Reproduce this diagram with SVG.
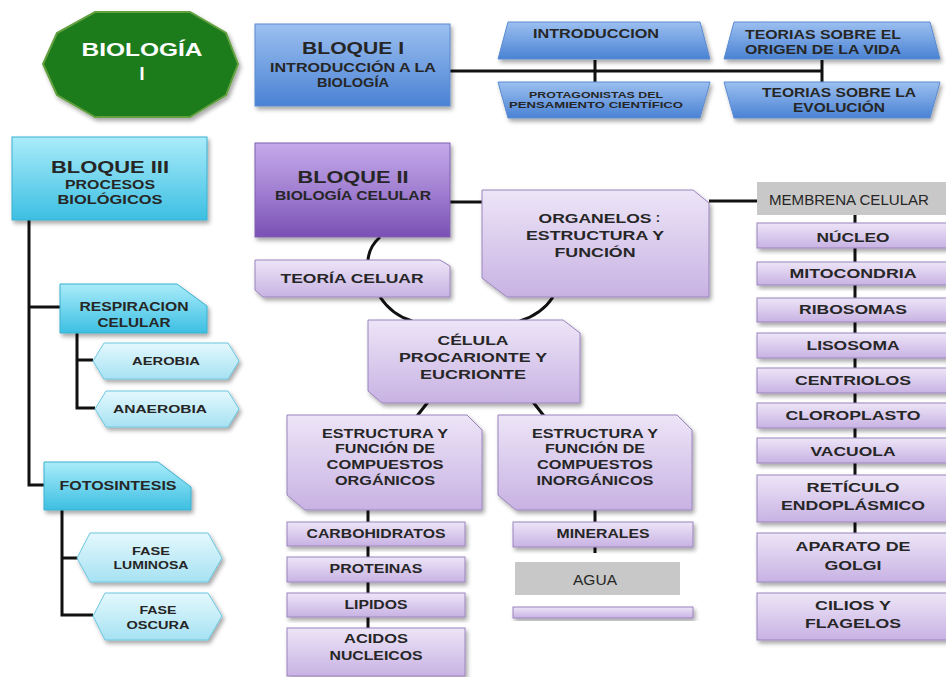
<svg xmlns="http://www.w3.org/2000/svg" width="946" height="677" viewBox="0 0 946 677">
<defs>
<linearGradient id="gPur" x1="0" y1="0" x2="0" y2="1"><stop offset="0" stop-color="#ede5f7"/><stop offset="1" stop-color="#c8b2e3"/></linearGradient>
<linearGradient id="gPurD" x1="0" y1="0" x2="0" y2="1"><stop offset="0" stop-color="#c4a9ea"/><stop offset="0.5" stop-color="#a280d2"/><stop offset="1" stop-color="#7a50b4"/></linearGradient>
<linearGradient id="gBlue" x1="0" y1="0" x2="0" y2="1"><stop offset="0" stop-color="#9cc0f0"/><stop offset="1" stop-color="#4a82d4"/></linearGradient>
<linearGradient id="gCyan" x1="0" y1="0" x2="0" y2="1"><stop offset="0" stop-color="#aaecfa"/><stop offset="1" stop-color="#3cbfe2"/></linearGradient>
<linearGradient id="gHex" x1="0" y1="0" x2="0" y2="1"><stop offset="0" stop-color="#e4f8fd"/><stop offset="1" stop-color="#a6e2f3"/></linearGradient>
<filter id="sh" x="-10%" y="-15%" width="125%" height="140%"><feDropShadow dx="2" dy="3" stdDeviation="2" flood-color="#000" flood-opacity="0.35"/></filter>
</defs>
<style>
.t{font-family:"Liberation Sans",Arial,sans-serif;font-weight:bold;fill:#262626;text-anchor:middle}
.w{fill:#ffffff}
.r{font-family:"Liberation Sans",Arial,sans-serif;font-weight:normal;fill:#262626;text-anchor:middle}
.pur{fill:url(#gPur);stroke:#9a84bd;stroke-width:1;filter:url(#sh)}
.purd{fill:url(#gPurD);stroke:#8060b0;stroke-width:1;filter:url(#sh)}
.blue{fill:url(#gBlue);stroke:#5a8ad0;stroke-width:1;filter:url(#sh)}
.cyan{fill:url(#gCyan);stroke:#3bb0d0;stroke-width:1;filter:url(#sh)}
.hex{fill:url(#gHex);stroke:#6cc6e0;stroke-width:1;filter:url(#sh)}
.gray{fill:#c8c8c8}
.c{stroke:#111;stroke-width:3;fill:none}
</style>
<rect width="946" height="677" fill="#ffffff"/>

<g id="connectors">
<path class="c" d="M450,71 H822 M595,60 V82 M822,60 V82"/>
<path class="c" d="M29,220 V485 H44 M29,307 H60"/>
<path class="c" d="M77,333 V408 H95 M77,360 H93"/>
<path class="c" d="M62,510 V615 H93 M62,558 H78"/>
<path class="c" d="M450,202 H482"/>
<path class="c" d="M380,237 Q368,248 368,262"/>
<path class="c" d="M380,297 Q392,315 412,321"/>
<path class="c" d="M520,321 Q542,314 553,297"/>
<path class="c" d="M709,201 H757"/>
<path class="c" d="M428,402 L417,416 M533,402 L544,416"/>
<path class="c" d="M368,510 V628"/>
<path class="c" d="M595,510 V553"/>
<path class="c" d="M855,215 V533"/>
</g>

<g id="biologia">
<polygon points="43,64 57,33 95,12 190,12 226,33 238,64 226,95 190,117 95,117 57,95" fill="#1f7b1f" stroke="#62a040" stroke-width="2" filter="url(#sh)"/>
<text class="t w" x="142" y="56" font-size="18" textLength="121" lengthAdjust="spacingAndGlyphs">BIOLOGÍA</text>
<text class="t w" x="142" y="80" font-size="18">I</text>
</g>

<g id="bloque1">
<rect class="blue" x="255" y="24" width="195" height="82"/>
<text class="t" x="353" y="54" font-size="17" textLength="102" lengthAdjust="spacingAndGlyphs">BLOQUE I</text>
<text class="t" x="353" y="72" font-size="12" textLength="166" lengthAdjust="spacingAndGlyphs">INTRODUCCIÓN A LA</text>
<text class="t" x="353" y="87" font-size="12" textLength="72" lengthAdjust="spacingAndGlyphs">BIOLOGÍA</text>
</g>

<g id="introduccion">
<polygon class="blue" points="508,22 700,22 710,59 498,59"/>
<text class="t" x="596" y="38" font-size="12.5" textLength="126" lengthAdjust="spacingAndGlyphs">INTRODUCCION</text>
</g>
<g id="origen">
<polygon class="blue" points="734,22 930,22 940,59 724,59"/>
<text class="t" x="823" y="39" font-size="12.5" textLength="156" lengthAdjust="spacingAndGlyphs">TEORIAS SOBRE EL</text>
<text class="t" x="823" y="54" font-size="12.5" textLength="156" lengthAdjust="spacingAndGlyphs">ORIGEN DE LA VIDA</text>
</g>
<g id="protagonistas">
<polygon class="blue" points="498,82 710,82 700,118 508,118"/>
<text class="t" x="596" y="98" font-size="9.5" textLength="134" lengthAdjust="spacingAndGlyphs">PROTAGONISTAS DEL</text>
<text class="t" x="596" y="108" font-size="9.5" textLength="174" lengthAdjust="spacingAndGlyphs">PENSAMIENTO CIENTÍFICO</text>
</g>
<g id="evolucion">
<polygon class="blue" points="724,82 940,82 930,118 734,118"/>
<text class="t" x="839" y="97" font-size="12.5" textLength="154" lengthAdjust="spacingAndGlyphs">TEORIAS SOBRE LA</text>
<text class="t" x="839" y="112" font-size="12.5" textLength="92" lengthAdjust="spacingAndGlyphs">EVOLUCIÓN</text>
</g>

<g id="bloque3">
<rect class="cyan" x="12" y="137" width="195" height="83"/>
<text class="t" x="110" y="173" font-size="17" textLength="118" lengthAdjust="spacingAndGlyphs">BLOQUE III</text>
<text class="t" x="110" y="189" font-size="12" textLength="90" lengthAdjust="spacingAndGlyphs">PROCESOS</text>
<text class="t" x="110" y="204" font-size="12" textLength="105" lengthAdjust="spacingAndGlyphs">BIOLÓGICOS</text>
</g>
<g id="respiracion">
<polygon class="cyan" points="60,284 177,284 207,306 207,333 60,333"/>
<text class="t" x="134" y="311" font-size="12" textLength="109" lengthAdjust="spacingAndGlyphs">RESPIRACION</text>
<text class="t" x="134" y="327" font-size="12" textLength="73" lengthAdjust="spacingAndGlyphs">CELULAR</text>
</g>
<g id="aerobia">
<polygon class="hex" points="93,361 104,343 228,343 239,361 228,379 104,379"/>
<text class="t" x="166" y="365" font-size="11" textLength="68" lengthAdjust="spacingAndGlyphs">AEROBIA</text>
</g>
<g id="anaerobia">
<polygon class="hex" points="95,409 106,391 228,391 239,409 228,427 106,427"/>
<text class="t" x="160" y="413" font-size="11" textLength="94" lengthAdjust="spacingAndGlyphs">ANAEROBIA</text>
</g>
<g id="fotosintesis">
<polygon class="cyan" points="44,462 158,462 191,487 191,510 44,510"/>
<text class="t" x="118" y="490" font-size="12" textLength="117" lengthAdjust="spacingAndGlyphs">FOTOSINTESIS</text>
</g>
<g id="luminosa">
<polygon class="hex" points="77,558 90,533 208,533 222,558 208,582 90,582"/>
<text class="t" x="151" y="555" font-size="10.5" textLength="38" lengthAdjust="spacingAndGlyphs">FASE</text>
<text class="t" x="151" y="569" font-size="10.5" textLength="75" lengthAdjust="spacingAndGlyphs">LUMINOSA</text>
</g>
<g id="oscura">
<polygon class="hex" points="93,616 105,593 208,593 222,616 208,640 105,640"/>
<text class="t" x="158" y="614" font-size="10.5" textLength="37" lengthAdjust="spacingAndGlyphs">FASE</text>
<text class="t" x="158" y="629" font-size="10.5" textLength="63" lengthAdjust="spacingAndGlyphs">OSCURA</text>
</g>

<g id="bloque2">
<rect class="purd" x="255" y="143" width="195" height="94"/>
<text class="t" x="353" y="183" font-size="17" textLength="111" lengthAdjust="spacingAndGlyphs">BLOQUE II</text>
<text class="t" x="353" y="200" font-size="12" textLength="156" lengthAdjust="spacingAndGlyphs">BIOLOGÍA CELULAR</text>
</g>
<g id="teoria">
<polygon class="pur" points="255,260 440,260 450,266 450,297 263,297 255,290"/>
<text class="t" x="352" y="283" font-size="13" textLength="143" lengthAdjust="spacingAndGlyphs">TEORÍA CELUAR</text>
</g>
<g id="organelos">
<polygon class="pur" points="482,190 693,190 709,203 709,297 507,297 482,278"/>
<text class="t" x="595" y="223" font-size="13" textLength="113" lengthAdjust="spacingAndGlyphs">ORGANELOS</text>
<text class="t" x="658" y="222" font-size="13">:</text>
<text class="t" x="595" y="240" font-size="13" textLength="138" lengthAdjust="spacingAndGlyphs">ESTRUCTURA Y</text>
<text class="t" x="595" y="257" font-size="13" textLength="81" lengthAdjust="spacingAndGlyphs">FUNCIÓN</text>
</g>
<g id="celula">
<polygon class="pur" points="368,320 563,320 580,333 580,403 382,403 368,391"/>
<text class="t" x="473" y="345" font-size="13" textLength="71" lengthAdjust="spacingAndGlyphs">CÉLULA</text>
<text class="t" x="473" y="362" font-size="13" textLength="148" lengthAdjust="spacingAndGlyphs">PROCARIONTE Y</text>
<text class="t" x="473" y="379" font-size="13" textLength="106" lengthAdjust="spacingAndGlyphs">EUCRIONTE</text>
</g>
<g id="organicos">
<polygon class="pur" points="287,415 467,415 482,430 482,510 305,510 287,495"/>
<text class="t" x="385" y="438" font-size="12" textLength="126" lengthAdjust="spacingAndGlyphs">ESTRUCTURA Y</text>
<text class="t" x="385" y="453" font-size="12" textLength="100" lengthAdjust="spacingAndGlyphs">FUNCIÓN DE</text>
<text class="t" x="385" y="469" font-size="12" textLength="117" lengthAdjust="spacingAndGlyphs">COMPUESTOS</text>
<text class="t" x="385" y="485" font-size="12" textLength="100" lengthAdjust="spacingAndGlyphs">ORGÁNICOS</text>
</g>
<g id="inorganicos">
<polygon class="pur" points="498,415 677,415 692,430 692,510 516,510 498,495"/>
<text class="t" x="595" y="438" font-size="12" textLength="126" lengthAdjust="spacingAndGlyphs">ESTRUCTURA Y</text>
<text class="t" x="595" y="453" font-size="12" textLength="100" lengthAdjust="spacingAndGlyphs">FUNCIÓN DE</text>
<text class="t" x="595" y="469" font-size="12" textLength="116" lengthAdjust="spacingAndGlyphs">COMPUESTOS</text>
<text class="t" x="595" y="485" font-size="12" textLength="117" lengthAdjust="spacingAndGlyphs">INORGÁNICOS</text>
</g>
<g id="carbohidratos">
<rect class="pur" x="287" y="522" width="178" height="24"/>
<text class="t" x="376" y="538" font-size="12" textLength="139" lengthAdjust="spacingAndGlyphs">CARBOHIDRATOS</text>
</g>
<g id="proteinas">
<rect class="pur" x="287" y="557" width="178" height="25"/>
<text class="t" x="376" y="573" font-size="12" textLength="93" lengthAdjust="spacingAndGlyphs">PROTEINAS</text>
</g>
<g id="lipidos">
<rect class="pur" x="287" y="593" width="178" height="24"/>
<text class="t" x="376" y="609" font-size="12" textLength="63" lengthAdjust="spacingAndGlyphs">LIPIDOS</text>
</g>
<g id="acidos">
<rect class="pur" x="287" y="628" width="178" height="48"/>
<text class="t" x="376" y="643" font-size="12" textLength="64" lengthAdjust="spacingAndGlyphs">ACIDOS</text>
<text class="t" x="376" y="660" font-size="12" textLength="93" lengthAdjust="spacingAndGlyphs">NUCLEICOS</text>
</g>
<g id="minerales">
<rect class="pur" x="513" y="522" width="180" height="25"/>
<text class="t" x="603" y="538" font-size="12" textLength="93" lengthAdjust="spacingAndGlyphs">MINERALES</text>
</g>
<g id="agua">
<rect class="pur" x="513" y="607" width="180" height="11"/>
<rect class="gray" x="515" y="562" width="165" height="33"/>
<text class="r" x="595" y="585" font-size="15" textLength="44" lengthAdjust="spacingAndGlyphs">AGUA</text>
</g>

<g id="membrana">
<rect class="gray" x="757" y="182" width="189" height="33"/>
<text class="r" x="849" y="205" font-size="14.5" textLength="160" lengthAdjust="spacingAndGlyphs">MEMBRENA CELULAR</text>
</g>
<g id="nucleo"><rect class="pur" x="757" y="223" width="195" height="25"/><text class="t" x="853" y="242" font-size="12.5" textLength="73" lengthAdjust="spacingAndGlyphs">NÚCLEO</text></g>
<g id="mitocondria"><rect class="pur" x="757" y="262" width="195" height="23"/><text class="t" x="853" y="278" font-size="12.5" textLength="127" lengthAdjust="spacingAndGlyphs">MITOCONDRIA</text></g>
<g id="ribosomas"><rect class="pur" x="757" y="298" width="195" height="24"/><text class="t" x="853" y="314" font-size="12.5" textLength="108" lengthAdjust="spacingAndGlyphs">RIBOSOMAS</text></g>
<g id="lisosoma"><rect class="pur" x="757" y="333" width="195" height="25"/><text class="t" x="853" y="350" font-size="12.5" textLength="93" lengthAdjust="spacingAndGlyphs">LISOSOMA</text></g>
<g id="centriolos"><rect class="pur" x="757" y="368" width="195" height="25"/><text class="t" x="853" y="385" font-size="12.5" textLength="116" lengthAdjust="spacingAndGlyphs">CENTRIOLOS</text></g>
<g id="cloroplasto"><rect class="pur" x="757" y="403" width="195" height="25"/><text class="t" x="853" y="420" font-size="12.5" textLength="135" lengthAdjust="spacingAndGlyphs">CLOROPLASTO</text></g>
<g id="vacuola"><rect class="pur" x="757" y="438" width="195" height="25"/><text class="t" x="853" y="456" font-size="12.5" textLength="85" lengthAdjust="spacingAndGlyphs">VACUOLA</text></g>
<g id="reticulo"><rect class="pur" x="757" y="475" width="195" height="47"/>
<text class="t" x="853" y="492" font-size="12.5" textLength="93" lengthAdjust="spacingAndGlyphs">RETÍCULO</text>
<text class="t" x="853" y="510" font-size="12.5" textLength="144" lengthAdjust="spacingAndGlyphs">ENDOPLÁSMICO</text></g>
<g id="golgi"><rect class="pur" x="757" y="533" width="195" height="49"/>
<text class="t" x="853" y="551" font-size="12.5" textLength="115" lengthAdjust="spacingAndGlyphs">APARATO DE</text>
<text class="t" x="853" y="570" font-size="12.5" textLength="57" lengthAdjust="spacingAndGlyphs">GOLGI</text></g>
<g id="cilios"><rect class="pur" x="757" y="593" width="195" height="47"/>
<text class="t" x="853" y="610" font-size="12.5" textLength="76" lengthAdjust="spacingAndGlyphs">CILIOS Y</text>
<text class="t" x="853" y="628" font-size="12.5" textLength="96" lengthAdjust="spacingAndGlyphs">FLAGELOS</text></g>
</svg>
